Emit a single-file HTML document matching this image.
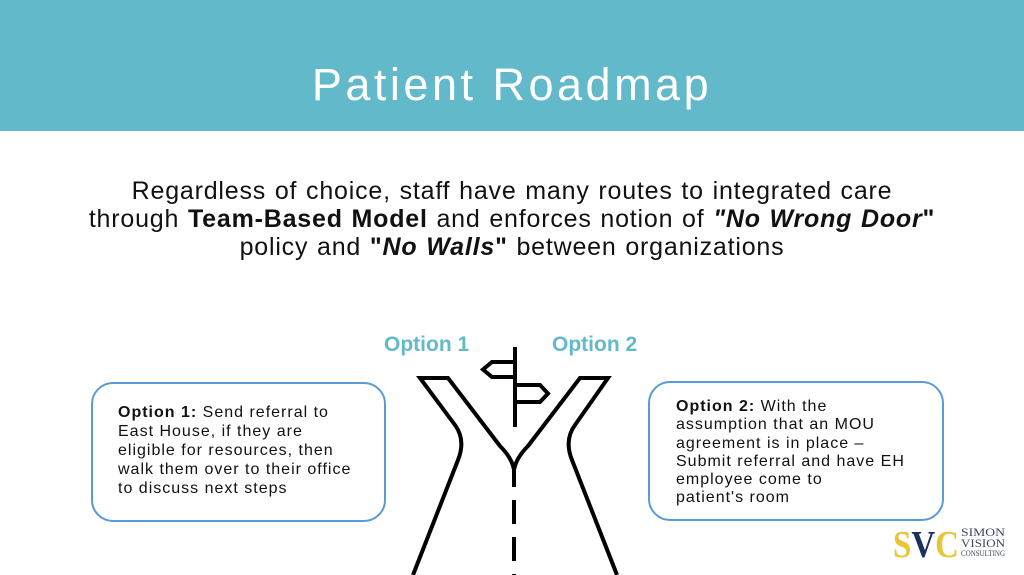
<!DOCTYPE html>
<html><head><style>
body{margin:0;width:1024px;height:575px;position:relative;background:#fff;font-family:"Liberation Sans",sans-serif;overflow:hidden}
.hdr{position:absolute;left:0;top:0;width:1024px;height:131px;background:#62b9ca}
.hdr div{position:absolute;top:56px;width:100%;text-align:center;color:#fff;font-size:45px;line-height:58px;letter-spacing:3.5px}
.sub{position:absolute;top:177px;left:0;width:1024px;text-align:center;font-size:25px;line-height:28px;color:#111;letter-spacing:0.8px;word-spacing:1px}
.opt{position:absolute;top:333px;font-size:21px;font-weight:bold;color:#62b9ca}
.box{position:absolute;border:2px solid #5b9bd5;border-radius:22px;background:#fff;font-size:16px;line-height:19px;color:#111;box-sizing:border-box;letter-spacing:1px}
</style></head><body>
<div class="hdr"><div>Patient Roadmap</div></div>
<div class="sub">Regardless of choice, staff have many routes to integrated care<br>through <b>Team-Based Model</b> and enforces notion of <b><i>"No Wrong Door</i>"</b><br>policy and <b>"<i>No Walls</i>"</b> between organizations</div>
<div class="opt" style="left:384px">Option 1</div>
<div class="opt" style="left:552px">Option 2</div>
<div class="box" style="left:91px;top:382px;width:295px;height:140px;padding:19px 0 0 25px"><b>Option 1:</b> Send referral to<br>East House, if they are<br>eligible for resources, then<br>walk them over to their office<br>to discuss next steps</div>
<div class="box" style="left:648px;top:381px;width:296px;height:140px;padding:15px 0 0 26px;line-height:18.3px"><b>Option 2:</b> With the<br>assumption that an MOU<br>agreement is in place –<br>Submit referral and have EH<br>employee come to<br>patient's room</div>
<svg style="position:absolute;left:0;top:0" width="1024" height="575">
<g fill="none" stroke="#000" stroke-width="4" stroke-linejoin="miter">
<path d="M413,575 L458,460 Q466,440 455,425 L420,378 L448,378 L500,446 Q512,458 514,470"/>
<path d="M617,575 L572,460 Q564,440 575,425 L608,378 L580,378 L528,446 Q516,458 514,470"/>
<path d="M514,463 V575" stroke-dasharray="24,13"/>
<path d="M515,347 V427"/>
<path d="M515,362 H492 L483,369.5 L492,377 H515"/>
<path d="M515,385 H540 L548,393.5 L540,402 H515"/>
</g>
<text x="893" y="557" font-family="Liberation Serif" font-size="38" fill="#e8c532" font-weight="bold" textLength="66" lengthAdjust="spacingAndGlyphs">S<tspan fill="#1d2f5e">V</tspan>C</text>
<text x="961" y="536" font-family="Liberation Serif" font-size="12" fill="#3a4560" textLength="44" lengthAdjust="spacingAndGlyphs">SIMON</text>
<text x="961" y="547" font-family="Liberation Serif" font-size="12" fill="#3a4560" textLength="44" lengthAdjust="spacingAndGlyphs">VISION</text>
<text x="961" y="556" font-family="Liberation Serif" font-size="8" fill="#3a4560" textLength="44" lengthAdjust="spacingAndGlyphs">CONSULTING</text>
</svg>
</body></html>
